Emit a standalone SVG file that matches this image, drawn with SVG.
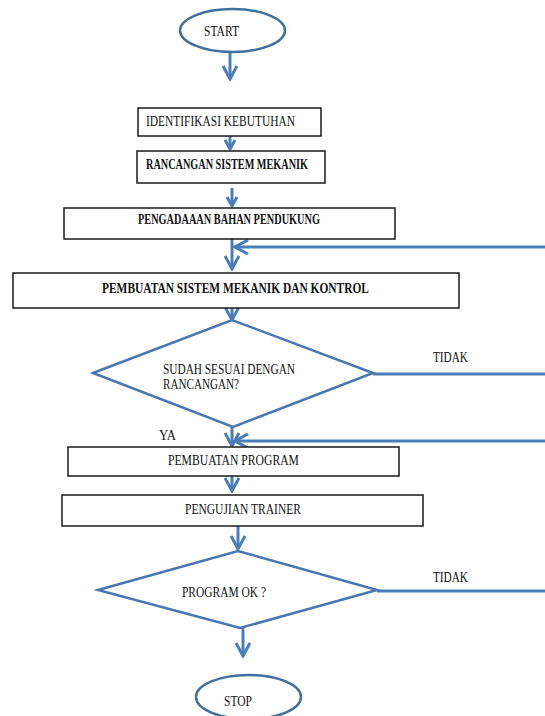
<svg xmlns="http://www.w3.org/2000/svg" width="545" height="716" viewBox="0 0 545 716">
<style>
.box{fill:#fff;stroke:#1a1a1a;stroke-width:1.5}
.term{fill:#fff;stroke:#41709f;stroke-width:2.5}
.dec{fill:#fff;stroke:#4876b0;stroke-width:2.5}
.ln{fill:none;stroke:#4a7ebb;stroke-width:3}
.t{font-family:'Liberation Serif','Times New Roman','DejaVu Serif',serif;font-size:14px;fill:#111}
.b{font-weight:bold}
</style>
<defs>
<marker id="arr" viewBox="0 0 16 16" markerWidth="16" markerHeight="16" refX="14" refY="8" orient="auto" markerUnits="userSpaceOnUse">
<path d="M1,1 L14,8 L1,15" fill="none" stroke="#4a7ebb" stroke-width="3"/>
</marker>
<marker id="arrs" viewBox="0 0 12 12" markerWidth="12" markerHeight="12" refX="10" refY="6" orient="auto" markerUnits="userSpaceOnUse">
<path d="M1,1 L10,6 L1,11" fill="none" stroke="#4a7ebb" stroke-width="3"/>
</marker>
</defs>
<g id="connectors">
<line class="ln" x1="230" y1="53" x2="230" y2="79" marker-end="url(#arr)"/>
<line class="ln" x1="230" y1="136" x2="230" y2="149" marker-end="url(#arrs)"/>
<line class="ln" x1="232" y1="188" x2="232" y2="206" marker-end="url(#arrs)"/>
<line class="ln" x1="232" y1="239" x2="232" y2="269" marker-end="url(#arr)"/>
<line class="ln" x1="545" y1="247" x2="235" y2="247" marker-end="url(#arr)"/>
<line class="ln" x1="232" y1="308" x2="232" y2="320" marker-end="url(#arr)"/>
<line class="ln" x1="373" y1="374" x2="545" y2="374"/>
<line class="ln" x1="232" y1="427" x2="232" y2="446" marker-end="url(#arr)"/>
<line class="ln" x1="545" y1="441" x2="235" y2="441" marker-end="url(#arr)"/>
<line class="ln" x1="232" y1="476" x2="232" y2="491" marker-end="url(#arr)"/>
<line class="ln" x1="238" y1="526" x2="238" y2="549" marker-end="url(#arr)"/>
<line class="ln" x1="377" y1="591" x2="545" y2="591"/>
<line class="ln" x1="243" y1="628" x2="243" y2="656" marker-end="url(#arr)"/>
<text class="t" x="433" y="362" textLength="35" lengthAdjust="spacingAndGlyphs">TIDAK</text>
<text class="t" x="159" y="440" textLength="17" lengthAdjust="spacingAndGlyphs">YA</text>
<text class="t" x="433" y="582" textLength="35" lengthAdjust="spacingAndGlyphs">TIDAK</text>
</g>
<g id="start">
<ellipse class="term" cx="232.5" cy="30.5" rx="52.5" ry="21.5"/>
<text class="t" x="204" y="35.5" font-size="15" textLength="35" lengthAdjust="spacingAndGlyphs">START</text>
</g>
<g id="identifikasi">
<rect class="box" x="138" y="108" width="183" height="28"/>
<text class="t" x="146" y="125.5" textLength="149" lengthAdjust="spacingAndGlyphs">IDENTIFIKASI KEBUTUHAN</text>
</g>
<g id="rancangan">
<rect class="box" x="137" y="151" width="188" height="32"/>
<text class="t b" x="146" y="168.5" font-size="12" textLength="162" lengthAdjust="spacingAndGlyphs">RANCANGAN SISTEM MEKANIK</text>
</g>
<g id="pengadaan">
<rect class="box" x="64" y="208" width="331" height="31"/>
<text class="t b" x="138" y="223.5" font-size="12" textLength="182" lengthAdjust="spacingAndGlyphs">PENGADAAAN BAHAN PENDUKUNG</text>
</g>
<g id="pembuatan-sistem">
<rect class="box" x="13" y="273" width="446" height="35"/>
<text class="t b" x="102" y="292.5" font-size="15" textLength="267" lengthAdjust="spacingAndGlyphs">PEMBUATAN SISTEM MEKANIK DAN KONTROL</text>
</g>
<g id="cek-rancangan">
<polygon class="dec" points="93,373 232,320 373,373 233,427"/>
<text class="t" x="163" y="373.5" textLength="132" lengthAdjust="spacingAndGlyphs">SUDAH SESUAI DENGAN</text>
<text class="t" x="163" y="388.5" textLength="76" lengthAdjust="spacingAndGlyphs">RANCANGAN?</text>
</g>
<g id="pembuatan-program">
<rect class="box" x="68" y="447" width="331" height="29"/>
<text class="t" x="168" y="464.5" textLength="131" lengthAdjust="spacingAndGlyphs">PEMBUATAN PROGRAM</text>
</g>
<g id="pengujian">
<rect class="box" x="62" y="495" width="361" height="31"/>
<text class="t" x="185" y="513.5" textLength="116" lengthAdjust="spacingAndGlyphs">PENGUJIAN TRAINER</text>
</g>
<g id="cek-program">
<polygon class="dec" points="98,590 238,551 377,590 240,628"/>
<text class="t" x="182" y="596.5" textLength="84" lengthAdjust="spacingAndGlyphs">PROGRAM OK ?</text>
</g>
<g id="stop">
<ellipse class="term" cx="248.5" cy="697" rx="52.5" ry="22"/>
<text class="t" x="224" y="705.5" font-size="15" textLength="28" lengthAdjust="spacingAndGlyphs">STOP</text>
</g>
</svg>
